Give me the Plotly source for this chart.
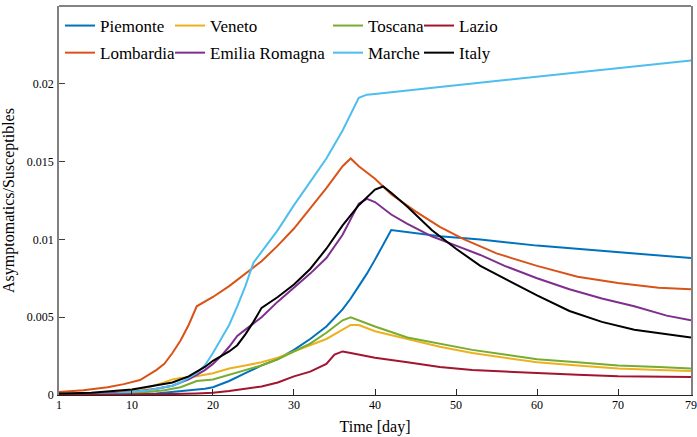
import plotly.graph_objects as go

# ---------------- data ----------------
piemonte_x = [1, 5, 10, 13, 15, 17, 19, 20, 22, 24, 26, 28, 30, 32, 34, 36, 37, 38, 39, 40, 41, 42, 48, 53, 60, 70, 79]
piemonte_y = [0, 0, 0.00003, 0.0001, 0.0002, 0.0003, 0.0004, 0.0005, 0.0009, 0.0014, 0.0019, 0.0023, 0.0029, 0.0036, 0.0044, 0.0055, 0.0062, 0.0070, 0.0078, 0.0087, 0.0097, 0.0106, 0.0102, 0.0100, 0.0096, 0.0092, 0.0088]

lombardia_x = [1, 4, 7, 9, 11, 13, 14, 15, 16, 17, 18, 20, 22, 24, 26, 28, 30, 32, 34, 36, 37, 38, 40, 42, 45, 48, 51, 55, 60, 65, 70, 75, 79]
lombardia_y = [0.0002, 0.0003, 0.0005, 0.0007, 0.00096, 0.0016, 0.0020, 0.0027, 0.0035, 0.0045, 0.0057, 0.0063, 0.0070, 0.0078, 0.0086, 0.0096, 0.0107, 0.0120, 0.0133, 0.0147, 0.0152, 0.0147, 0.0139, 0.0129, 0.0118, 0.0108, 0.0100, 0.0091, 0.0083, 0.0076, 0.0072, 0.0069, 0.0068]

veneto_x = [1, 5, 8, 10, 12, 14, 15, 16, 18, 20, 22, 24, 26, 28, 30, 32, 34, 36, 37, 38, 40, 44, 48, 52, 56, 60, 65, 70, 75, 79]
veneto_y = [0.00003, 0.0001, 0.0002, 0.0003, 0.0005, 0.0008, 0.0010, 0.0011, 0.0012, 0.0014, 0.0017, 0.0019, 0.0021, 0.0024, 0.0028, 0.0032, 0.0036, 0.0042, 0.0045, 0.0045, 0.0041, 0.0036, 0.0031, 0.0027, 0.0024, 0.0021, 0.0019, 0.0017, 0.0016, 0.00155]

emilia_x = [1, 5, 10, 13, 15, 17, 18, 19, 20, 21, 22, 23, 24, 25, 26, 28, 30, 32, 34, 36, 38, 39, 40, 42, 44, 47, 50, 53, 56, 60, 64, 68, 72, 76, 79]
emilia_y = [0, 0.00005, 0.0002, 0.0004, 0.0006, 0.0010, 0.0013, 0.0016, 0.0020, 0.0025, 0.0031, 0.0038, 0.0042, 0.0046, 0.0050, 0.0060, 0.0069, 0.0078, 0.0088, 0.0103, 0.0123, 0.0126, 0.0124, 0.0116, 0.0110, 0.0102, 0.0096, 0.0090, 0.0083, 0.0075, 0.0068, 0.0062, 0.0057, 0.0051, 0.0048]

toscana_x = [1, 5, 10, 12, 14, 16, 17, 18, 20, 22, 24, 26, 28, 30, 32, 34, 36, 37, 38, 40, 44, 48, 52, 56, 60, 65, 70, 75, 79]
toscana_y = [0, 0.00002, 0.0001, 0.0002, 0.0003, 0.0005, 0.0007, 0.0009, 0.0010, 0.0013, 0.0016, 0.0019, 0.0023, 0.0028, 0.0033, 0.0040, 0.0048, 0.0050, 0.0048, 0.0044, 0.0037, 0.0033, 0.0029, 0.0026, 0.0023, 0.0021, 0.0019, 0.0018, 0.0017]

marche_x = [1, 5, 8, 10, 12, 14, 15, 16, 17, 18, 19, 20, 21, 22, 23, 24, 25, 26, 27, 28, 29, 30, 32, 34, 36, 37, 38, 39, 40, 48, 79]
marche_y = [0, 0.00002, 0.0001, 0.0002, 0.0003, 0.0005, 0.0006, 0.0008, 0.0011, 0.0014, 0.0019, 0.0027, 0.0036, 0.0045, 0.0057, 0.0070, 0.0085, 0.0092, 0.0099, 0.0106, 0.0114, 0.0122, 0.0137, 0.0152, 0.0170, 0.0181, 0.0191, 0.0193, 0.01935, 0.0198, 0.0215]

lazio_x = [1, 9, 12, 15, 18, 20, 22, 24, 26, 28, 30, 32, 34, 35, 36, 37, 40, 44, 48, 52, 56, 60, 65, 70, 79]
lazio_y = [0, 0.00001, 0.00003, 0.00006, 0.0001, 0.00015, 0.00025, 0.0004, 0.00055, 0.0008, 0.0012, 0.0015, 0.0020, 0.0026, 0.0028, 0.0027, 0.0024, 0.0021, 0.0018, 0.0016, 0.0015, 0.0014, 0.0013, 0.0012, 0.00115]

italy_x = [1, 5, 10, 13, 15, 17, 19, 20, 21, 22, 23, 24, 25, 26, 28, 30, 32, 34, 36, 38, 40, 41, 42, 44, 47, 50, 53, 56, 60, 64, 68, 72, 76, 79]
italy_y = [0.0001, 0.00015, 0.00035, 0.0006, 0.0008, 0.0012, 0.0018, 0.0022, 0.0025, 0.0028, 0.0032, 0.0039, 0.0047, 0.0056, 0.0063, 0.0071, 0.0081, 0.0094, 0.0109, 0.0122, 0.0132, 0.0134, 0.0130, 0.0121, 0.0106, 0.0094, 0.0083, 0.0075, 0.0064, 0.0054, 0.0047, 0.0042, 0.0039, 0.0037]

x_tickvals = [1, 10, 20, 30, 40, 50, 60, 70, 79]
y_tickvals = [0, 0.005, 0.01, 0.015, 0.02, 0.025]
y_ticktext = ["0", "0.005", "0.01", "0.015", "0.02", "0.025"]

# (name, x, y, colour, legend column)
series = [
    ("Piemonte", piemonte_x, piemonte_y, "#0072BD", "legend"),
    ("Lombardia", lombardia_x, lombardia_y, "#D95319", "legend"),
    ("Veneto", veneto_x, veneto_y, "#EDB120", "legend2"),
    ("Emilia Romagna", emilia_x, emilia_y, "#7E2F8E", "legend2"),
    ("Toscana", toscana_x, toscana_y, "#77AC30", "legend3"),
    ("Marche", marche_x, marche_y, "#4DBEEE", "legend3"),
    ("Lazio", lazio_x, lazio_y, "#A2142F", "legend4"),
    ("Italy", italy_x, italy_y, "#000000", "legend4"),
]

FONT = "'Liberation Serif', 'DejaVu Serif', serif"

fig = go.Figure()
for name, xs, ys, col, leg in series:
    fig.add_trace(go.Scatter(
        x=xs, y=ys, mode="lines", name=name,
        line=dict(color=col, width=2),
        legend=leg, legendgroup=name,
    ))

W, H = 697, 437
ml, mr, mt, mb = 59, 6, 6, 42
pw = W - ml - mr
ph = H - mt - mb

def px_x(px):
    return (px - ml) / pw

def px_y(py):
    return (H - mb - py) / ph

leg_common = dict(
    orientation="v", yanchor="top", xanchor="left",
    bgcolor="rgba(0,0,0,0)", borderwidth=0,
    font=dict(family=FONT, size=17, color="#000000"),
    tracegroupgap=2,
)
legend_y = px_y(8)
fig.update_layout(
    legend=dict(x=px_x(60), y=legend_y, **leg_common),
    legend2=dict(x=px_x(170), y=legend_y, **leg_common),
    legend3=dict(x=px_x(328), y=legend_y, **leg_common),
    legend4=dict(x=px_x(419), y=legend_y, **leg_common),
)

fig.update_layout(
    width=W, height=H,
    margin=dict(l=ml, r=mr, t=mt, b=mb, autoexpand=False),
    paper_bgcolor="white", plot_bgcolor="white",
    font=dict(family=FONT, size=12, color="#000000"),
    showlegend=True,
)

fig.update_xaxes(
    range=[1, 79], tickvals=x_tickvals, ticktext=[str(v) for v in x_tickvals],
    showgrid=False, zeroline=False, automargin=False,
    showline=True, linecolor="#262626", linewidth=1, mirror=False,
    ticks="inside", ticklen=6, tickcolor="#262626",
    ticklabelstandoff=-1,
    tickfont=dict(family=FONT, size=12, color="#000000"),
    title=dict(text="Time [day]", font=dict(family=FONT, size=16, color="#000000"), standoff=9),
)
fig.update_yaxes(
    range=[0, 0.025], tickvals=y_tickvals, ticktext=y_ticktext,
    showgrid=False, zeroline=False, automargin=False,
    showline=True, linecolor="#808080", linewidth=1.5, mirror=True,
    ticks="inside", ticklen=6, tickcolor="#404040",
    ticklabelstandoff=1,
    tickfont=dict(family=FONT, size=12, color="#000000"),
    title=dict(text="Asymptomatics/Susceptibles", font=dict(family=FONT, size=16, color="#000000"), standoff=9),
)

# top frame line
fig.add_shape(type="line", xref="paper", yref="paper", x0=0, x1=1, y0=1, y1=1,
              line=dict(color="#5a5a5a", width=1.5))

fig.write_html("out.html", config={"displayModeBar": False},
               post_script="document.body.style.margin='0';")
